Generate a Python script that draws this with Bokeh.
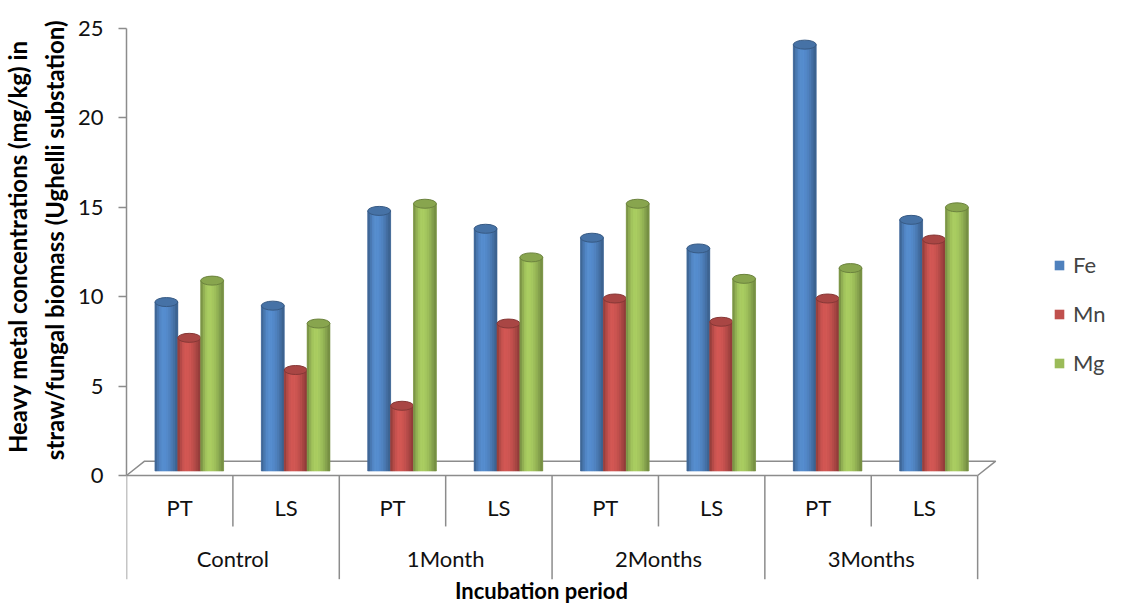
import math
from bokeh.plotting import figure
from bokeh.models import ColumnDataSource, Range1d, FixedTicker, Legend, LegendItem, Title
from bokeh.core.properties import value
from bokeh.embed import file_html
from bokeh.resources import INLINE

# ---------------- data ----------------
groups = ["Control", "1Month", "2Months", "3Months"]
subs = ["PT", "LS"]
series = ["Fe", "Mn", "Mg"]
fe = [9.7, 9.5, 14.8, 13.8, 13.3, 12.7, 24.1, 14.3]
mn = [7.7, 5.9, 3.9, 8.5, 9.9, 8.6, 9.9, 13.2]
mg = [10.9, 8.5, 15.2, 12.2, 15.2, 11.0, 11.6, 15.0]
y_ticks = [0, 5, 10, 15, 20, 25]
y_title_lines = ["Heavy metal concentrations (mg/kg)  in",
                 "straw/fungal biomass (Ughelli substation)"]
x_title = "Incubation period"

# ---------------- style ----------------
FONT = "Lato"
base_colors = ["#4F81BD", "#C0504D", "#9BBB59"]
BW = 0.215          # bar width (category units)
DEPTH_DX = 0.17     # 3D floor depth offsets
DEPTH_DY = 0.8
BAR_SHIFT = 0.09
BAR_BASE = 0.25
NSTRIP = 10
GRAY = "#8C8C8C"

def shade(hexc, f):
    h = hexc.lstrip("#")
    r, g, b = (int(h[i:i + 2], 16) for i in (0, 2, 4))
    return "#%02x%02x%02x" % tuple(max(0, min(255, int(round(c * f)))) for c in (r, g, b))

def profile(t):
    u = t / 0.38 if t < 0.38 else (1 - t) / 0.62
    return 0.72 + 0.38 * math.sin(max(0.0, u) * math.pi / 2)

n_cells = len(groups) * len(subs)
values = [fe, mn, mg]

p = figure(width=1108, height=603, output_backend="svg", toolbar_location=None,
           x_range=Range1d(0, 9.23), y_range=Range1d(-7.16, 25.45),
           x_axis_location=None, min_border_left=124, min_border_right=0,
           min_border_top=20, min_border_bottom=0)
p.outline_line_color = None
p.grid.visible = False
p.background_fill_color = "white"
p.border_fill_color = "white"

# floor of the 3D box
n = n_cells
p.line([0, n], [0, 0], line_color=GRAY, line_width=1.5)
p.line([0, DEPTH_DX, n + DEPTH_DX, n], [0, DEPTH_DY, DEPTH_DY, 0], line_color=GRAY, line_width=1.5)

# category separators
bx = list(range(n_cells + 1))
by = [-5.8 if i % len(subs) == 0 else -2.85 for i in bx]
p.segment(x0=bx, y0=[0] * len(bx), x1=bx, y1=by, line_color=GRAY, line_width=1.5)

# bars (cylinders)
legend_items = []
for k, (name, vals, col) in enumerate(zip(series, values, base_colors)):
    centers = [i + 0.5 + BAR_SHIFT + (k - 1) * BW for i in range(n_cells)]
    base = p.vbar(x=centers, top=vals, bottom=BAR_BASE, width=BW,
                  fill_color=col, line_color=None)
    legend_items.append(LegendItem(label=name, renderers=[base]))
    xs, tops, cols = [], [], []
    for s in range(NSTRIP):
        t = (s + 0.5) / NSTRIP
        c = shade(col, profile(t))
        for cx, v in zip(centers, vals):
            xs.append(cx - BW / 2 + t * BW)
            tops.append(v)
            cols.append(c)
    src = ColumnDataSource(dict(x=xs, top=tops, c=cols))
    p.vbar(x="x", top="top", bottom=BAR_BASE, width=BW / NSTRIP, source=src,
           fill_color="c", line_color="c", line_width=0.6)
    p.ellipse(x=centers, y=vals, width=BW, height=9, height_units="screen",
              fill_color=shade(col, 0.88), line_color=shade(col, 0.7), line_width=1)

# category labels
p.text(x=[i + 0.5 for i in range(n_cells)], y=[-1.79] * n_cells,
       text=[subs[i % len(subs)] for i in range(n_cells)],
       text_align="center", text_baseline="middle", text_font=value(FONT),
       text_font_size="22px", text_color="#111111")
p.text(x=[g * len(subs) + len(subs) / 2 for g in range(len(groups))], y=[-4.64] * len(groups),
       text=groups, text_align="center", text_baseline="middle", text_font=value(FONT),
       text_font_size="22px", text_color="#111111")
p.text(x=[n_cells / 2 - 0.1], y=[-6.45], text=[x_title], text_align="center",
       text_baseline="middle", text_font=value(FONT), text_font_size="22px",
       text_font_style="bold", text_color="#000000")

# y axis
ax = p.yaxis[0]
ax.bounds = (0, 25)
ax.ticker = FixedTicker(ticks=y_ticks)
ax.axis_line_color = GRAY
ax.axis_line_width = 1.5
ax.major_tick_line_color = GRAY
ax.major_tick_line_width = 1.5
ax.major_tick_out = 8
ax.major_tick_in = 0
ax.minor_tick_line_color = None
ax.major_label_standoff = 15
ax.major_label_text_font = FONT
ax.major_label_text_font_size = "22px"
ax.major_label_text_color = "#111111"

# y title: two lines (second line nearest the axis)
for line, off, so in [(y_title_lines[1], 0, 12), (y_title_lines[0], 14, 0)]:
    p.add_layout(Title(text=line, align="right", offset=off, standoff=so,
                       text_font=FONT, text_font_size="24px", text_font_style="bold",
                       text_color="#000000"), "left")

legend = Legend(items=legend_items, location=(927, 227), padding=0, margin=0,
                border_line_color=None, background_fill_alpha=0,
                label_text_font=FONT, label_text_font_size="22px",
                label_height=22, glyph_height=12, glyph_width=12, spacing=22,
                label_standoff=8)
p.add_layout(legend)

open("out.html", "w").write(file_html(p, INLINE))
